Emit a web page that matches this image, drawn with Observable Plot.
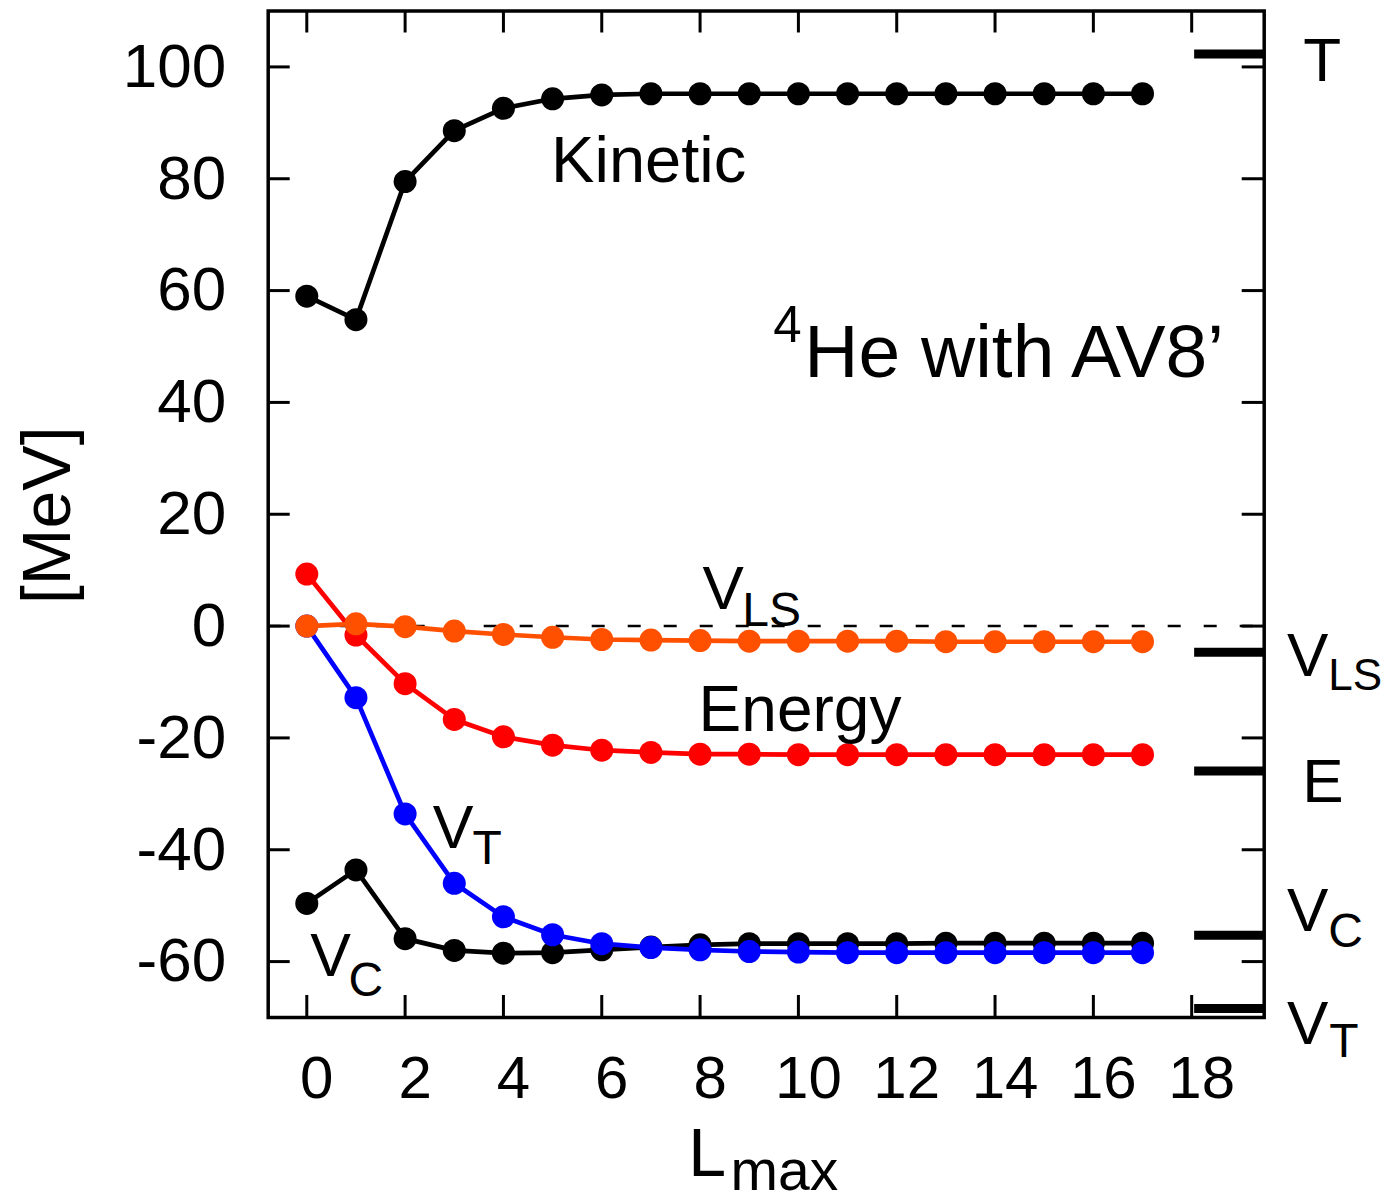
<!DOCTYPE html>
<html><head><meta charset="utf-8">
<script src="https://cdn.jsdelivr.net/npm/d3@7"></script>
<script src="https://cdn.jsdelivr.net/npm/@observablehq/plot@0.6"></script>
<style>body{margin:0;background:#fff} svg{display:block}</style>
</head><body><div id="chart"></div>
<script>
// ---- data ----
const Lmax = [0,1,2,3,4,5,6,7,8,9,10,11,12,13,14,15,16,17];
const kinetic = [59.0,54.8,79.5,88.6,92.6,94.3,95.0,95.2,95.2,95.2,95.2,95.2,95.2,95.2,95.2,95.2,95.2,95.2];
const energy  = [9.3,-1.6,-10.3,-16.7,-19.8,-21.3,-22.2,-22.6,-22.9,-22.9,-23.0,-23.0,-23.0,-23.0,-23.0,-23.0,-23.0,-23.0];
const vLS     = [0.0,0.4,-0.1,-0.9,-1.5,-2.0,-2.4,-2.5,-2.6,-2.7,-2.7,-2.7,-2.7,-2.8,-2.8,-2.8,-2.8,-2.8];
const vT      = [0.0,-12.8,-33.6,-46.0,-52.0,-55.2,-56.8,-57.5,-57.9,-58.2,-58.3,-58.4,-58.4,-58.4,-58.4,-58.4,-58.4,-58.4];
const vC      = [-49.6,-43.6,-55.9,-58.0,-58.5,-58.4,-57.9,-57.4,-57.0,-56.8,-56.8,-56.8,-56.8,-56.7,-56.7,-56.7,-56.7,-56.7];
const xTicks = [0,2,4,6,8,10,12,14,16,18];
const yTicks = [-60,-40,-20,0,20,40,60,80,100];
const refNames  = ["T","V_LS","E","V_C","V_T"];
const refValues = [102.3,-4.7,-25.9,-55.3,-68.4];

// ---- layout / style ----
const W = 1383, H = 1202;
const mL = 267.7, mR = W - 1263.7, mT = 10.5, mB = H - 1017;
const innerW = W - mL - mR, innerH = H - mT - mB;
const tickLen = 22;
const font = "'Liberation Sans', Arial, Helvetica, sans-serif";

const series = [
  {name: "Kinetic", values: kinetic, color: "#000000"},
  {name: "V_C",     values: vC,      color: "#000000"},
  {name: "V_T",     values: vT,      color: "#0000ff"},
  {name: "Energy",  values: energy,  color: "#ff0000"},
  {name: "V_LS",    values: vLS,     color: "#ff5000"}
];

// annotation text (positions in data units)
const labels = [
  {t: "Kinetic", x: 4.97, y: 79.4, s: 65},
  {t: "4", x: 9.49, y: 50.75, s: 51},
  {t: "He with AV8\u2019", x: 10.12, y: 44.5, s: 75},
  {t: "Energy", x: 7.97, y: -18.7, s: 64},
  {t: "V", x: 8.05, y: 3.1, s: 62},
  {t: "LS", x: 8.86, y: 0.1, s: 48},
  {t: "V", x: 2.56, y: -39.6, s: 61},
  {t: "T", x: 3.37, y: -42.6, s: 48},
  {t: "V", x: 0.07, y: -62.5, s: 61},
  {t: "C", x: 0.85, y: -66.1, s: 48},
  // right-hand labels of reference bars
  {t: "T", x: 20.27, y: 97.4, s: 62},
  {t: "V", x: 19.94, y: -8.85, s: 62},
  {t: "LS", x: 20.78, y: -11.5, s: 44},
  {t: "E", x: 20.25, y: -31.5, s: 62},
  {t: "V", x: 19.94, y: -54.5, s: 62},
  {t: "C", x: 20.78, y: -57.4, s: 48},
  {t: "V", x: 19.94, y: -74.7, s: 62},
  {t: "T", x: 20.8, y: -77.1, s: 48}
];

const seriesMarks = series.flatMap(s => {
  const rows = Lmax.map((L, i) => ({L, v: s.values[i]}));
  return [
    Plot.line(rows, {x: "L", y: "v", stroke: s.color, strokeWidth: 4.7}),
    Plot.dot(rows, {x: "L", y: "v", r: 11.5, fill: s.color, stroke: "none"})
  ];
});

const chart = Plot.plot({
  width: W, height: H,
  marginLeft: mL, marginRight: mR, marginTop: mT, marginBottom: mB,
  x: {domain: [-0.785, 19.475], axis: null},
  y: {domain: [-70, 110], axis: null},
  style: {fontFamily: font, background: "#fff", color: "#000", overflow: "visible"},
  marks: [
    Plot.ruleY([0], {strokeDasharray: "13,23", strokeWidth: 2.5}),
    // inward ticks on all four sides
    Plot.tickX(xTicks, {x: d => d, insetTop: innerH - tickLen, strokeWidth: 3}),
    Plot.tickX(xTicks, {x: d => d, insetBottom: innerH - tickLen, strokeWidth: 3}),
    Plot.tickY(yTicks, {y: d => d, insetRight: innerW - tickLen, strokeWidth: 3}),
    Plot.tickY(yTicks, {y: d => d, insetLeft: innerW - tickLen, strokeWidth: 3}),
    // reference bars at right
    Plot.ruleY(refValues, {y: d => d, x1: 18.06, x2: 19.475, strokeWidth: 9}),
    ...seriesMarks,
    Plot.frame({strokeWidth: 3.5}),
    // tick labels
    Plot.text(xTicks, {x: d => d, text: d => String(d), frameAnchor: "bottom", lineAnchor: "top", dy: 38, dx: 10, fontSize: 60}),
    Plot.text(yTicks, {y: d => d, text: d => String(d), frameAnchor: "left", textAnchor: "end", dx: -42, fontSize: 62}),
    // axis titles
    Plot.text(["[MeV]"], {frameAnchor: "left", textAnchor: "middle", rotate: -90, dx: -220, dy: 1, fontSize: 68}),
    Plot.text(["L"], {x: 7.76, frameAnchor: "bottom", lineAnchor: "bottom", dy: 158, textAnchor: "start", fontSize: 68}),
    Plot.text(["max"], {x: 8.62, frameAnchor: "bottom", lineAnchor: "bottom", dy: 172, textAnchor: "start", fontSize: 57}),
    // annotations
    Plot.text(labels, {x: "x", y: "y", text: "t", fontSize: "s", textAnchor: "start", lineAnchor: "bottom"})
  ]
});
document.getElementById("chart").appendChild(chart);
</script>
</body></html>
